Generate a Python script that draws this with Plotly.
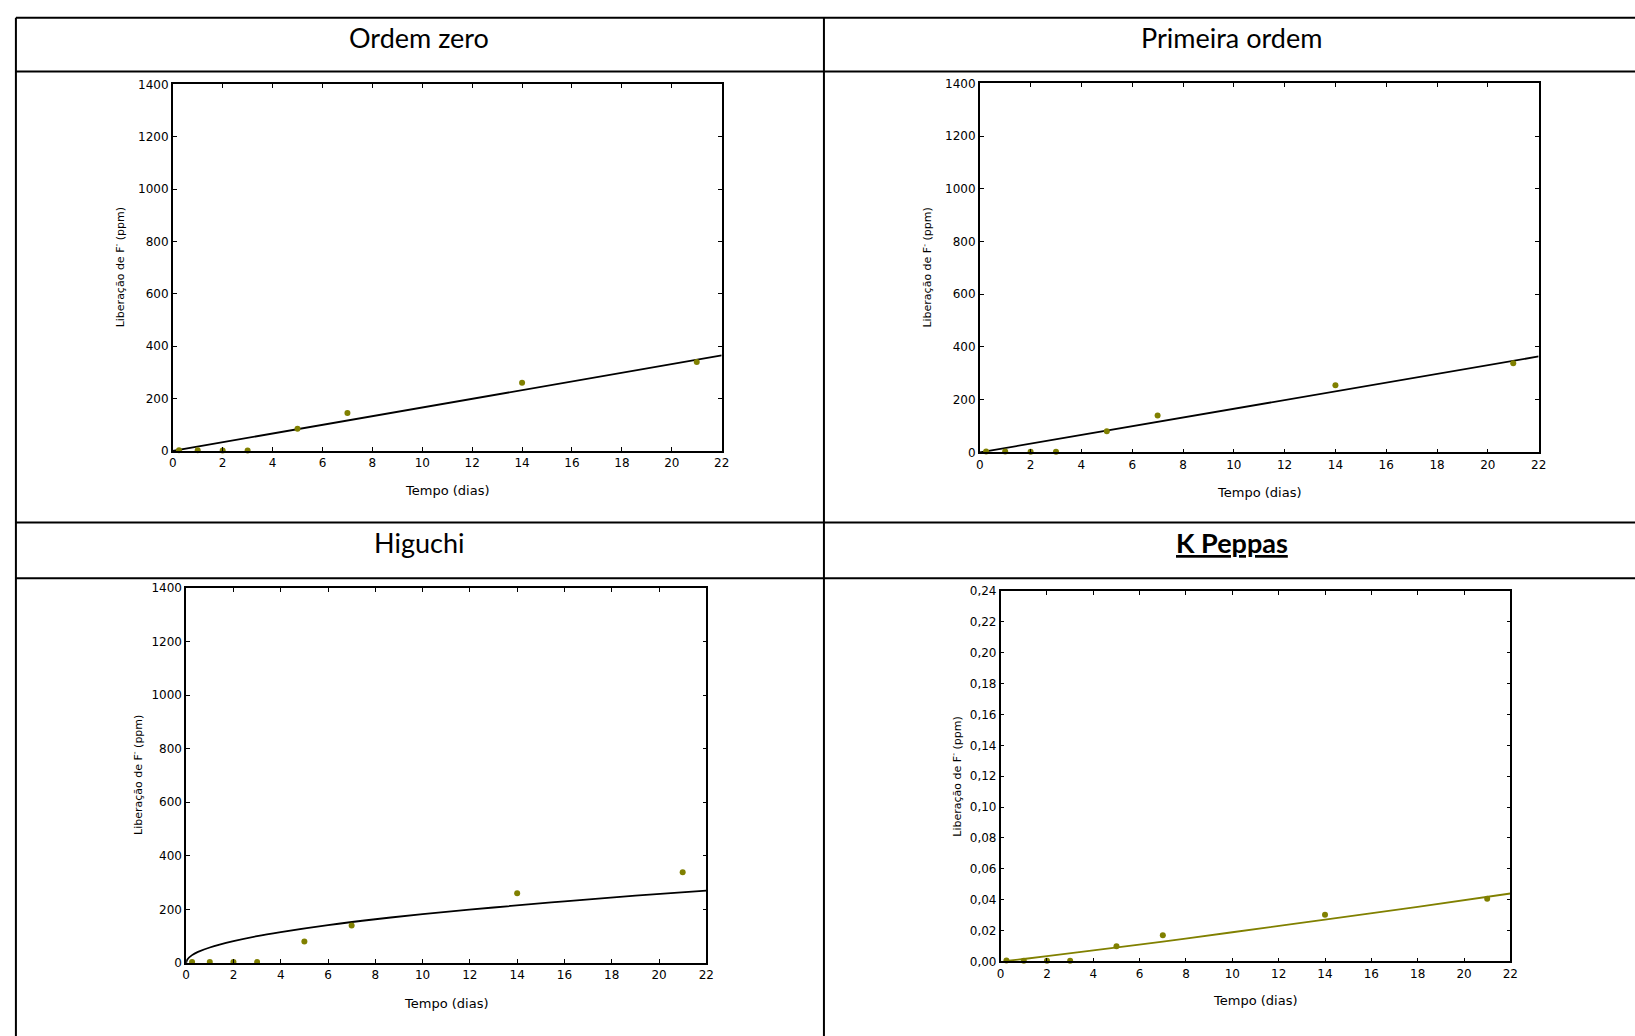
import plotly.graph_objects as go

W, H = 1635, 1036

# ---- data ----
tempo = [0.25, 1, 2, 3, 5, 7, 14, 21]
zero_y = [3, 3, 2, 2, 85, 145, 260, 340]
primeira_y = [3, 3, 2, 2, 80, 140, 255, 338]
higuchi_y = [3, 3, 3, 3, 80, 140, 260, 339]
peppas_y = [0.0006, 0.0005, 0.0005, 0.0004, 0.0098, 0.0170, 0.0303, 0.0406]

zero_fit_t = [0, 22]
zero_fit_y = [0, 365]
primeira_fit_t = [0, 22]
primeira_fit_y = [0, 364]
higuchi_fit_t = [0, 0.05, 0.25, 0.5, 1, 2, 3, 4, 6, 8, 10, 13, 16, 19, 22]
higuchi_fit_y = [0, 13, 29, 41, 57.5, 81, 100, 115, 141, 163, 182, 207, 230, 251, 270]
peppas_fit_t = [0.25, 1, 2, 4, 7, 10, 14, 18, 22]
peppas_fit_y = [0.0004, 0.0016, 0.0034, 0.0071, 0.0129, 0.0189, 0.0271, 0.0354, 0.0440]

titles = ["Ordem zero", "Primeira ordem", "Higuchi", "K Peppas"]
x_title = "Tempo (dias)"
y_title = "Liberação de F<sup>-</sup> (ppm)"

OLIVE = "#808000"


def px(x):
    return x / W


def py(y):
    return 1 - y / H


# axes boxes in pixels: (left, right, top, bottom)
boxes = [
    (170, 723, 78.5, 450),
    (983, 1546, 77.5, 451.5),
    (183.5, 707.5, 589, 969),
    (1004, 1517.5, 592, 967.5),
]
ytitle_x = [116.5, 930.5, 134.5, 959.5]
xtitle_y = [490, 492, 1010, 1007]

fig = go.Figure()

series = [
    (zero_y, zero_fit_t, zero_fit_y, "black", "linear"),
    (primeira_y, primeira_fit_t, primeira_fit_y, "black", "linear"),
    (higuchi_y, higuchi_fit_t, higuchi_fit_y, "black", "spline"),
    (peppas_y, peppas_fit_t, peppas_fit_y, OLIVE, "spline"),
]

for i, (pts, ft, fy, lcol, shape) in enumerate(series):
    suf = "" if i == 0 else str(i + 1)
    fig.add_trace(go.Scatter(x=ft, y=fy, mode="lines", line=dict(color=lcol, width=1.8, shape=shape),
                             xaxis="x" + suf, yaxis="y" + suf, showlegend=False, hoverinfo="skip"))
    fig.add_trace(go.Scatter(x=tempo, y=pts, mode="markers", marker=dict(color=OLIVE, size=6),
                             xaxis="x" + suf, yaxis="y" + suf, showlegend=False, cliponaxis=False))

tickfont = dict(family="DejaVu Sans", size=12, color="black")
layout = dict(
    margin=dict(l=0, r=0, t=0, b=0, pad=0),
    paper_bgcolor="white", plot_bgcolor="white",
    separators=",.",
    showlegend=False,
)

for i, (l, r, t, b) in enumerate(boxes):
    suf = "" if i == 0 else str(i + 1)
    common = dict(showline=True, linecolor="black", linewidth=1.5, mirror="ticks",
                  ticks="inside", ticklen=4, tickcolor="black", tickwidth=1,
                  showgrid=False, zeroline=False, tickfont=tickfont)
    layout["xaxis" + suf] = dict(domain=[px(l), px(r)], range=[0, 22], dtick=2, tick0=0,
                                 anchor="y" + suf, **common)
    if i == 3:
        ydict = dict(range=[0, 0.24], dtick=0.02, tick0=0, tickformat=".2f")
    else:
        ydict = dict(range=[0, 1400], dtick=200, tick0=0)
    layout["yaxis" + suf] = dict(domain=[py(b), py(t)], anchor="x" + suf, **ydict, **common)

annotations = []
title_pos = [(418.5, 31), (1237, 31), (418.5, 543), (1237, 543)]
for i, (tx, ty) in enumerate(title_pos):
    txt = titles[i]
    font = dict(family="Lato", size=27, color="black")
    if i == 3:
        txt = "<b>" + txt + "</b>"
        font["lineposition"] = "under"
    annotations.append(dict(x=px(tx), y=py(ty), xref="paper", yref="paper", text=txt,
                            showarrow=False, xanchor="center", yanchor="middle", font=font))

for i, (l, r, t, b) in enumerate(boxes):
    annotations.append(dict(x=px((l + r) / 2), y=py(xtitle_y[i]), xref="paper", yref="paper",
                            text=x_title, showarrow=False, xanchor="center", yanchor="middle",
                            font=dict(family="DejaVu Sans", size=13, color="black")))
    annotations.append(dict(x=px(ytitle_x[i]), y=py((t + b) / 2), xref="paper", yref="paper",
                            text=y_title, showarrow=False, xanchor="center", yanchor="middle",
                            textangle=-90,
                            font=dict(family="DejaVu Sans", size=11, color="black")))
layout["annotations"] = annotations

shapes = []
for yy in [11, 65.5, 522.5, 579]:
    shapes.append(dict(type="line", xref="paper", yref="paper", x0=px(12), x1=1.01,
                       y0=py(yy), y1=py(yy), line=dict(color="black", width=2)))
for xx in [12, 826]:
    shapes.append(dict(type="line", xref="paper", yref="paper", x0=px(xx), x1=px(xx),
                       y0=py(11), y1=-0.01, line=dict(color="black", width=2)))
layout["shapes"] = shapes

fig.update_layout(**layout)

fig.write_html(
    "out.html",
    default_width="1635px;position:absolute;left:0px;top:0px;overflow:hidden",
    default_height="1036px",
    config={"displayModeBar": False},
    post_script="document.body.style.margin='0';document.body.style.overflow='hidden';",
)
